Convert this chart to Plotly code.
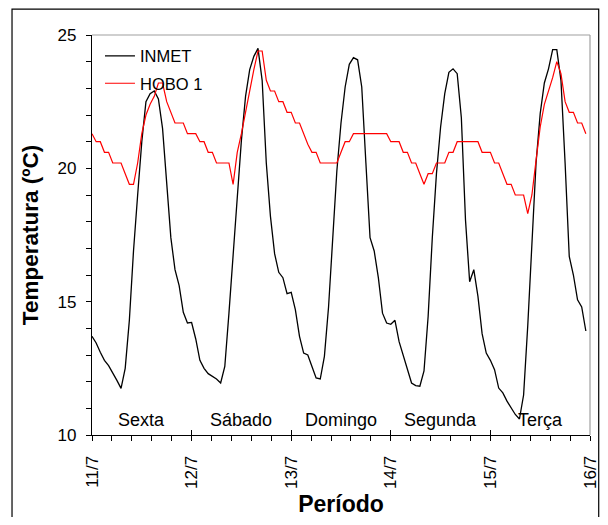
import plotly.graph_objects as go

# Hourly readings, 11/7 00h .. 15/7 23h
hours = list(range(120))
inmet = [
    13.7, 13.45, 13.1, 12.8, 12.6, 12.35, 12.05, 11.75, 12.5, 14.3, 16.9, 19.0,
    21.0, 22.5, 22.8, 22.9, 22.6, 21.5, 19.3, 17.4, 16.2, 15.6, 14.6, 14.2,
    14.22, 13.6, 12.8, 12.5, 12.3, 12.2, 12.1, 11.95, 12.57, 14.57, 16.7, 18.9,
    21.05, 22.7, 23.7, 24.2, 24.5, 23.3, 20.2, 18.2, 16.8, 16.1, 15.9, 15.3,
    15.35, 14.7, 13.7, 13.07, 13.0, 12.57, 12.14, 12.1, 12.95, 14.8, 17.4, 19.9,
    21.7, 23.05, 23.9, 24.15, 24.07, 23.05, 20.2, 17.4, 16.9, 15.9, 14.57, 14.2,
    14.15, 14.3, 13.5, 13.0, 12.5, 11.95, 11.85, 11.83, 12.4, 14.45, 17.4, 19.8,
    21.55, 22.8, 23.6, 23.73, 23.55, 21.9, 18.06, 15.75, 16.2, 15.2, 13.8, 13.07,
    12.8, 12.45, 11.76, 11.58, 11.27, 11.02, 10.77, 10.6, 11.5, 14.1, 17.2, 20.2,
    22.05, 23.2, 23.73, 24.45, 24.45, 23.3, 20.2, 16.7, 16.0, 15.07, 14.8, 13.9,
]
hobo = [
    21.3, 21.0, 21.0, 20.6, 20.6, 20.2, 20.2, 20.2, 19.8, 19.4, 19.4, 20.2,
    21.3, 22.0, 22.4, 22.7, 23.2, 23.2, 22.5, 22.1, 21.7, 21.7, 21.7, 21.3,
    21.3, 21.3, 21.0, 21.0, 20.6, 20.6, 20.2, 20.2, 20.2, 20.2, 19.4, 20.6,
    21.3, 22.1, 23.0, 23.7, 24.4, 24.4, 23.3, 22.9, 22.9, 22.5, 22.5, 22.1,
    22.1, 21.7, 21.7, 21.3, 20.9, 20.6, 20.6, 20.2, 20.2, 20.2, 20.2, 20.2,
    20.6, 21.0, 21.0, 21.3, 21.3, 21.3, 21.3, 21.3, 21.3, 21.3, 21.3, 21.3,
    21.0, 21.0, 21.0, 20.6, 20.6, 20.2, 20.2, 19.8, 19.4, 19.8, 19.8, 20.2,
    20.2, 20.2, 20.6, 20.6, 21.0, 21.0, 21.0, 21.0, 21.0, 21.0, 20.6, 20.6,
    20.6, 20.2, 20.2, 19.8, 19.4, 19.4, 19.0, 19.0, 19.0, 18.3, 19.0, 20.3,
    21.55, 22.4, 22.9, 23.4, 24.0, 23.55, 22.5, 22.1, 22.1, 21.7, 21.7, 21.3,
]
day_ticks = [0, 1, 2, 3, 4, 5]
day_labels = ["11/7", "12/7", "13/7", "14/7", "15/7", "16/7"]
day_names = ["Sexta", "Sábado", "Domingo", "Segunda", "Terça"]

x_days = [h / 24 for h in hours]
FONT = "Arial, Liberation Sans, sans-serif"

fig = go.Figure()
fig.add_trace(go.Scatter(x=x_days, y=inmet, mode="lines", name="INMET",
                         line=dict(color="black", width=1.3), legendgroup="a"))
fig.add_trace(go.Scatter(x=x_days, y=hobo, mode="lines", name="HOBO 1",
                         line=dict(color="#ff0000", width=1.2), legendgroup="b"))

for i, nm in enumerate(day_names):
    fig.add_annotation(x=i + 0.5, y=10.55, text=nm, showarrow=False,
                       xref="x", yref="y", yanchor="middle",
                       font=dict(family=FONT, size=18, color="black"))

# plot border (gray top/right) and outer frame
fig.add_shape(type="line", xref="paper", yref="paper", x0=0, x1=1, y0=1, y1=1,
              line=dict(color="#a0a0a0", width=1.2))
fig.add_shape(type="line", xref="paper", yref="paper", x0=1, x1=1, y0=0, y1=1,
              line=dict(color="#a0a0a0", width=1.2))
fig.add_shape(type="rect", xref="paper", yref="paper",
              x0=-0.1606, x1=1.0175, y0=-0.35, y1=1.0646,
              line=dict(color="black", width=1.2), fillcolor="rgba(0,0,0,0)")

fig.update_layout(
    width=592, height=509,
    margin=dict(l=84, r=10, t=26.5, b=81.5),
    paper_bgcolor="white", plot_bgcolor="white",
    font=dict(family=FONT, color="black"),
    showlegend=True,
    legend=dict(x=0.016, y=0.991, xanchor="left", yanchor="top",
                bgcolor="rgba(0,0,0,0)", font=dict(family=FONT, size=16.5),
                traceorder="grouped", tracegroupgap=3),
    xaxis=dict(range=[0, 5], tickvals=day_ticks, ticktext=day_labels,
               tickangle=-90, ticks="outside", ticklen=5, tickwidth=1,
               tickcolor="black", showline=True, linecolor="black", linewidth=1.2,
               showgrid=False, zeroline=False, automargin=False,
               ticklabeloverflow="allow",
               tickfont=dict(family=FONT, size=17),
               ticklabelstandoff=8,
               minor=dict(dtick=0.2, ticks="outside", ticklen=5, tickcolor="black",
                          showgrid=False),
               title=dict(text="<b>Período</b>", font=dict(family=FONT, size=23),
                          standoff=16)),
    xaxis2=dict(range=[0, 5], overlaying="x", matches="x", tickvals=day_ticks,
                showticklabels=False, ticks="inside", ticklen=5, tickcolor="black",
                showgrid=False, zeroline=False, showline=False, side="bottom",
                automargin=False),
    yaxis=dict(range=[10, 25], dtick=5, ticks="outside", ticklen=5,
               tickcolor="black", showline=True, linecolor="black", linewidth=1.2,
               showgrid=False, zeroline=False, automargin=False,
               tickfont=dict(family=FONT, size=17),
               ticklabelstandoff=6,
               minor=dict(dtick=1, ticks="outside", ticklen=5, tickcolor="black",
                          showgrid=False),
               title=dict(text="<b>Temperatura (ºC)</b>",
                          font=dict(family=FONT, size=22.5), standoff=12)),
)
fig.add_trace(go.Scatter(x=[0], y=[None], xaxis="x2", showlegend=False,
                         hoverinfo="skip"))

fig.write_html("out.html")
